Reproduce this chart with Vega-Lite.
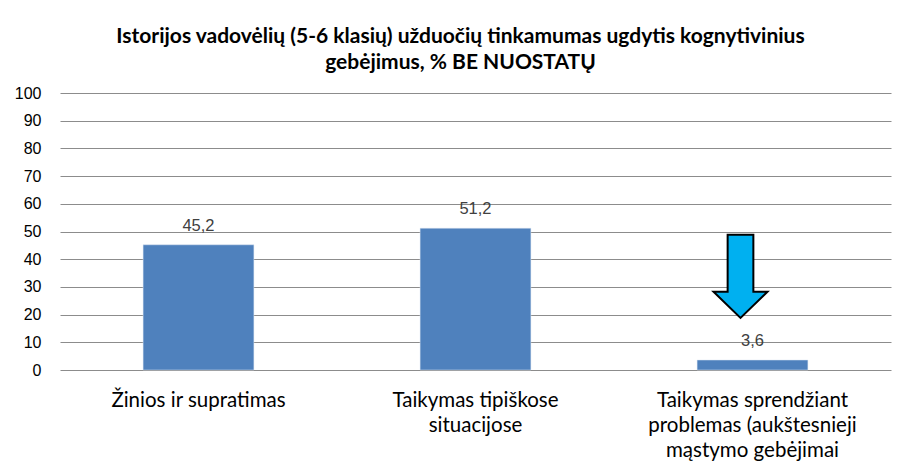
{
  "$schema": "https://vega.github.io/schema/vega-lite/v6.json",
  "width": 831,
  "height": 277,
  "autosize": {"type": "none"},
  "padding": {"left": 60, "top": 93, "right": 13, "bottom": 100},
  "background": "white",
  "title": {
    "text": ["Istorijos vadovėlių (5-6 klasių) užduočių tinkamumas ugdytis kognytivinius", "gebėjimus, % BE NUOSTATŲ"],
    "anchor": "middle",
    "dx": -15,
    "font": "Lato",
    "fontSize": 21,
    "fontWeight": "bold",
    "color": "#000000",
    "lineHeight": 26,
    "offset": 12
  },
  "data": {
    "values": [
      {"category": "Žinios ir supratimas", "value": 45.2},
      {"category": "Taikymas  tipiškose|situacijose", "value": 51.2},
      {"category": "Taikymas  sprendžiant|problemas (aukštesnieji|mąstymo gebėjimai", "value": 3.6}
    ]
  },
  "encoding": {
    "x": {
      "field": "category",
      "type": "nominal",
      "sort": null,
      "scale": {"paddingInner": 0.6, "paddingOuter": 0.3},
      "axis": {
        "title": null,
        "labelAngle": 0,
        "labelExpr": "split(datum.label, '|')",
        "labelFont": "Lato",
        "labelFontSize": 20.5,
        "labelColor": "#000000",
        "labelLineHeight": 25,
        "labelPadding": 20,
        "labelLimit": 300,
        "ticks": false,
        "domain": false
      }
    },
    "y": {
      "field": "value",
      "type": "quantitative",
      "scale": {"domain": [0, 100]},
      "axis": {
        "title": null,
        "values": [0, 10, 20, 30, 40, 50, 60, 70, 80, 90, 100],
        "labelOverlap": false,
        "grid": true,
        "gridColor": "#8c8c8c",
        "gridWidth": 1,
        "gridOpacity": 1,
        "domain": false,
        "ticks": false,
        "labelPadding": 19,
        "labelFont": "Liberation Sans",
        "labelFontSize": 16,
        "labelColor": "#000000"
      }
    }
  },
  "layer": [
    {
      "mark": {"type": "bar", "color": "#4F81BD", "stroke": "#dce6f2", "strokeWidth": 0.5}
    },
    {
      "mark": {"type": "text", "baseline": "bottom", "dy": -11, "font": "Liberation Sans", "fontSize": 16.5, "color": "#404040"},
      "encoding": {
        "text": {"field": "value", "type": "quantitative", "format": ".1f"}
      }
    },
    {
      "transform": [{"filter": "datum.value < 10"}],
      "mark": {
        "type": "point",
        "shape": "M-0.31,-1L0.31,-1L0.31,0.37L0.65,0.37L0,1L-0.65,0.37L-0.31,0.37Z",
        "size": 6889,
        "filled": true,
        "fill": "#00B0F0",
        "stroke": "#000000",
        "strokeWidth": 2,
        "opacity": 1,
        "xOffset": -12
      },
      "encoding": {
        "y": {"datum": 33.8, "type": "quantitative"}
      }
    }
  ],
  "config": {
    "view": {"stroke": null},
    "locale": {
      "number": {"decimal": ",", "thousands": " ", "grouping": [3], "currency": ["", " €"]}
    }
  }
}
